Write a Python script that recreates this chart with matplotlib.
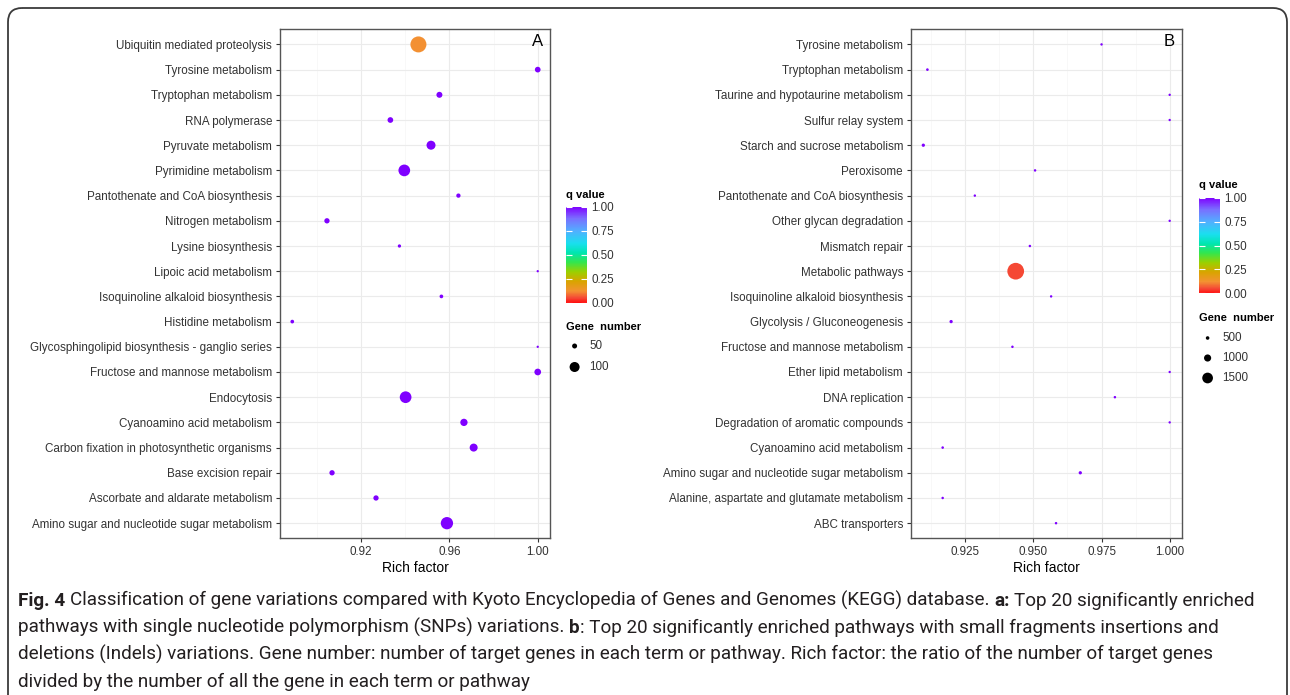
import numpy as np
import matplotlib
matplotlib.use("Agg")
import matplotlib.pyplot as plt
import matplotlib.cm as cm
from matplotlib.colors import LinearSegmentedColormap, Normalize
from matplotlib.patches import FancyBboxPatch

# ---- data ----
pathways_a = ["Ubiquitin mediated proteolysis", "Tyrosine metabolism", "Tryptophan metabolism",
              "RNA polymerase", "Pyruvate metabolism", "Pyrimidine metabolism",
              "Pantothenate and CoA biosynthesis", "Nitrogen metabolism", "Lysine biosynthesis",
              "Lipoic acid metabolism", "Isoquinoline alkaloid biosynthesis", "Histidine metabolism",
              "Glycosphingolipid biosynthesis - ganglio series", "Fructose and mannose metabolism",
              "Endocytosis", "Cyanoamino acid metabolism", "Carbon fixation in photosynthetic organisms",
              "Base excision repair", "Ascorbate and aldarate metabolism",
              "Amino sugar and nucleotide sugar metabolism"]
rich_a = [0.946, 1.000, 0.9555, 0.9333, 0.9517, 0.9396, 0.9641, 0.9046, 0.9374, 1.000,
          0.9564, 0.8889, 1.000, 1.000, 0.9402, 0.9666, 0.9710, 0.9069, 0.9268, 0.9589]
genes_a = [160, 57, 60, 57, 90, 117, 43, 53, 33, 23, 37, 37, 23, 67, 117, 73, 80, 53, 53, 123]
qval_a = [0.12, 1, 1, 1, 1, 1, 1, 1, 1, 1, 1, 1, 1, 1, 1, 1, 1, 1, 1, 1]

pathways_b = ["Tyrosine metabolism", "Tryptophan metabolism", "Taurine and hypotaurine metabolism",
              "Sulfur relay system", "Starch and sucrose metabolism", "Peroxisome",
              "Pantothenate and CoA biosynthesis", "Other glycan degradation", "Mismatch repair",
              "Metabolic pathways", "Isoquinoline alkaloid biosynthesis", "Glycolysis / Gluconeogenesis",
              "Fructose and mannose metabolism", "Ether lipid metabolism", "DNA replication",
              "Degradation of aromatic compounds", "Cyanoamino acid metabolism",
              "Amino sugar and nucleotide sugar metabolism",
              "Alanine, aspartate and glutamate metabolism", "ABC transporters"]
rich_b = [0.975, 0.9111, 1.000, 1.000, 0.9096, 0.9506, 0.9285, 1.000, 0.9487, 0.9435,
          0.9565, 0.9198, 0.9423, 1.000, 0.9799, 1.000, 0.9167, 0.9672, 0.9167, 0.9583]
genes_b = [340, 370, 330, 330, 460, 350, 340, 330, 350, 2340,
           340, 460, 350, 330, 350, 330, 360, 460, 350, 350]
qval_b = [1, 1, 1, 1, 1, 1, 1, 1, 1, 0.05, 1, 1, 1, 1, 1, 1, 1, 1, 1, 1]

xticks_a = [0.92, 0.96, 1.00]
xtick_labels_a = ["0.92", "0.96", "1.00"]
xminor_a = [0.90, 0.94, 0.98]
xticks_b = [0.925, 0.950, 0.975, 1.000]
xtick_labels_b = ["0.925", "0.950", "0.975", "1.000"]
xminor_b = [0.9125, 0.9375, 0.9625, 0.9875]

q_ticks = [0.0, 0.25, 0.5, 0.75, 1.0]
q_tick_labels = ["0.00", "0.25", "0.50", "0.75", "1.00"]
legend_genes_a = [50, 100]
legend_genes_b = [500, 1000, 1500]

# caption lines as (text, bold) pieces; pieces are joined by one space
caption = [
    [("Fig. 4", True), ("Classification of gene variations compared with Kyoto Encyclopedia of "
                        "Genes and Genomes (KEGG) database.", False),
     ("a:", True), ("Top 20 significantly enriched", False)],
    [("pathways with single nucleotide polymorphism (SNPs) variations.", False), ("b", True),
     (": Top 20 significantly enriched pathways with small fragments insertions and", False)],
    [("deletions (Indels) variations. Gene number: number of target genes in each term or "
      "pathway. Rich factor: the ratio of the number of target genes", False)],
    [("divided by the number of all the gene in each term or pathway", False)],
]

# ---- style ----
W, H = 1290, 695
CAP_FONT = "Roboto"
plt.rcParams["font.family"] = ["Liberation Sans", "DejaVu Sans"]

cmap = LinearSegmentedColormap.from_list("qv", [
    (0.00, "#FF1010"), (0.05, "#F44B36"), (0.12, "#F39232"), (0.22, "#D9A400"),
    (0.32, "#9BD000"), (0.42, "#33E64D"), (0.52, "#00E6B0"), (0.62, "#1ADFEF"),
    (0.75, "#52AEFF"), (0.88, "#7A6EFF"), (1.00, "#7F00FF")])
norm = Normalize(0, 1)
TXT = "#333333"


def rect(l, t, r, b):
    return [l / W, 1 - b / H, (r - l) / W, (b - t) / H]


fig = plt.figure(figsize=(W / 100, H / 100), dpi=100)

# overlay in pixel coordinates for frame, legends and caption
ov = fig.add_axes([0, 0, 1, 1], zorder=-1)
ov.set_xlim(0, W)
ov.set_ylim(H, 0)
ov.axis("off")
ov.add_patch(FancyBboxPatch((8, 8), 1279, 730, boxstyle="round,pad=0,rounding_size=14",
                            fill=False, ec="#3a3a3a", lw=1.3, clip_on=False))


def draw_panel(box, labels, rich, genes, qv, px_per_gene, letter, ticks, tick_labels, minor):
    ax = fig.add_axes(rect(*box))
    n = len(labels)
    ypos = np.arange(n, 0, -1)
    d = np.asarray(genes) * px_per_gene * 0.72
    ax.scatter(rich, ypos, s=d ** 2, c=qv, cmap=cmap, norm=norm, linewidths=0, zorder=3)
    lo, hi = min(rich), max(rich)
    pad = 0.05 * (hi - lo)
    ax.set_xlim(lo - pad, hi + pad)
    ax.set_ylim(0.4, n + 0.6)
    ax.set_yticks(ypos)
    ax.set_yticklabels(labels)
    ax.set_xticks(ticks)
    ax.set_xticklabels(tick_labels)
    ax.set_xticks(minor, minor=True)
    ax.tick_params(which="major", length=2.75, width=0.8, color=TXT, labelcolor=TXT,
                   labelsize=8.4, pad=3)
    ax.tick_params(which="minor", length=0)
    ax.grid(which="major", color="#EBEBEB", lw=0.8)
    ax.grid(which="minor", axis="x", color="#F5F5F5", lw=0.5)
    ax.set_axisbelow(True)
    for s in ax.spines.values():
        s.set_color("#555555")
        s.set_linewidth(1.0)
    ax.text(1.0, n + 0.12, letter, ha="center", va="center", fontsize=12, color="black")
    ax.set_xlabel("Rich factor", fontsize=10, labelpad=2)
    return ax


def draw_legends(left, cb_top, cb_bot, q_title_y, g_title_y, key_y, gvals, px_per_gene):
    cax = fig.add_axes(rect(left, cb_top, left + 21, cb_bot))
    cb = fig.colorbar(cm.ScalarMappable(norm=norm, cmap=cmap), cax=cax, ticks=q_ticks)
    cb.ax.set_yticklabels(q_tick_labels)
    cb.outline.set_visible(False)
    cb.ax.tick_params(direction="in", length=4, width=0.8, color="white", labelcolor=TXT,
                      labelsize=8.4, left=True, right=True, pad=3)
    ov.text(left, q_title_y, "q value", fontsize=8, fontweight="bold", ha="left", va="center")
    ov.text(left, g_title_y, "Gene  number", fontsize=8, fontweight="bold", ha="left", va="center")
    d = np.asarray(gvals) * px_per_gene * 0.72
    ov.scatter([left + 8.6] * len(gvals), key_y, s=d ** 2, c="black", linewidths=0)
    for y, v in zip(key_y, gvals):
        ov.text(left + 23, y, str(v), fontsize=8.4, color=TXT, ha="left", va="center")


draw_panel((280, 29.3, 550, 538.3), pathways_a, rich_a, genes_a, qval_a, 0.1, "A",
           xticks_a, xtick_labels_a, xminor_a)
draw_panel((911, 29.3, 1182, 538.3), pathways_b, rich_b, genes_b, qval_b, 0.00714, "B",
           xticks_b, xtick_labels_b, xminor_b)

draw_legends(566, 206.7, 302.7, 195, 327, [346, 367], legend_genes_a, 0.1)
draw_legends(1199, 197.7, 293.3, 185, 318, [338, 358, 378], legend_genes_b, 0.00714)

# caption: lay out bold / regular pieces side by side, sized to fill the first line
renderer = fig.canvas.get_renderer()


def text_width(s, size, bold):
    t = ov.text(0, 0, s, fontsize=size, family=CAP_FONT,
                fontweight="bold" if bold else "normal")
    w = t.get_window_extent(renderer).width
    t.remove()
    return w


def line_width(pieces, size):
    space = text_width("x x", size, False) - text_width("xx", size, False)
    total = sum(text_width(s, size, b) for s, b in pieces)
    gaps = sum(0 if s.startswith(":") else 1 for s, _ in pieces[1:])
    return total + gaps * space, space


w10, _ = line_width(caption[0], 10)
cap_size = 10 * 1244 / w10
_, space = line_width(caption[0], cap_size)
for i, pieces in enumerate(caption):
    x = 18
    for j, (s, bold) in enumerate(pieces):
        if j > 0 and not s.startswith(":"):
            x += space
        ov.text(x, 606 + 27 * i, s, fontsize=cap_size, family=CAP_FONT, color="#231F20",
                fontweight="bold" if bold else "normal", ha="left", va="baseline")
        x += text_width(s, cap_size, bold)

fig.savefig("out.png", dpi=100)
